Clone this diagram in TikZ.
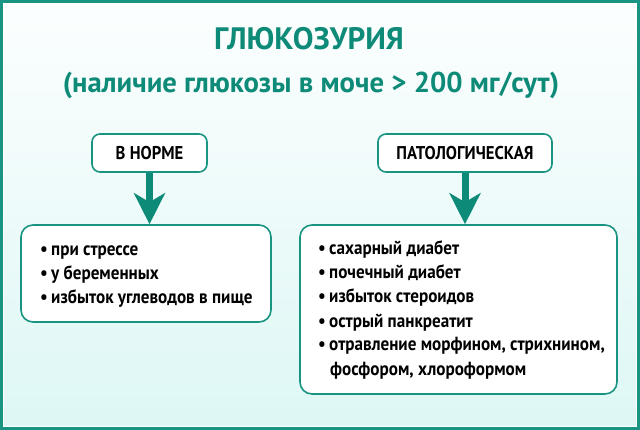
\documentclass[tikz,border=0pt]{standalone}
\usepackage{fontspec}
\setmainfont{PT Sans}
\newfontfamily\titlefont{PT Sans}
\newfontfamily\bodyfont[FakeStretch=0.9]{PT Sans}
\usetikzlibrary{arrows.meta}
\definecolor{tealtxt}{HTML}{0E8A78}
\definecolor{tealline}{HTML}{1A9482}
\definecolor{bgtop}{HTML}{FCFEFE}
\definecolor{bgbot}{HTML}{DDF7F5}
\tikzset{
  labelbox/.style={draw=tealline, line width=1.6pt, fill=white, rounded corners=8pt,
    inner sep=0pt, font=\bodyfont\bfseries\fontsize{18.5}{22}\selectfont, text=black},
  listbox/.style={draw=tealline, line width=1.6pt, fill=white, rounded corners=12pt, inner sep=0pt},
  item/.style={anchor=base west, inner sep=0pt, font=\bodyfont\bfseries\fontsize{19}{22}\selectfont, text=black},
  flowarrow/.style={draw=tealtxt, line width=7pt, -{Stealth[length=31pt,width=31pt,inset=9pt]}},
  titletext/.style={text=tealtxt, inner sep=0pt, font=\titlefont\bfseries}
}
\newcommand{\bul}{\makebox[11pt][l]{•}}
\begin{document}
\begin{tikzpicture}[x=1pt,y=-1pt]
\useasboundingbox (0,0) rectangle (640,430);
\shade[top color=bgtop, bottom color=bgbot] (0,0) rectangle (640,430);
\draw[white, line width=1.2pt] (3.2,3.2) rectangle (636.8,426.8);
\draw[tealline, line width=2.6pt] (1.3,1.3) rectangle (638.7,428.7);

\node[titletext, font=\titlefont\bfseries\fontsize{31}{34}\selectfont, anchor=base] (title) at (309,50) {ГЛЮКОЗУРИЯ};
\node[titletext, font=\titlefont\bfseries\fontsize{28.7}{32}\selectfont, anchor=base] (subtitle) at (311,93) {(наличие глюкозы в моче > 200 мг/сут)};

\node[labelbox, minimum width=115pt, minimum height=38pt] (norm) at (149.5,153) {В НОРМЕ};
\node[labelbox, minimum width=174pt, minimum height=38pt] (patho) at (465,153) {ПАТОЛОГИЧЕСКАЯ};

\node[listbox, minimum width=250pt, minimum height=97pt] (normlist) at (146,273.5) {};
\node[listbox, minimum width=317pt, minimum height=169pt] (patholist) at (458.5,309.5) {};

\draw[flowarrow] (norm.south) -- (norm.south |- normlist.north);
\draw[flowarrow] (patho.south) -- (patho.south |- patholist.north);

\node[item] (n1) at (40,256) {\bul при стрессе};
\node[item] (n2) at (40,280) {\bul у беременных};
\node[item] (n3) at (40,304) {\bul избыток углеводов в пище};

\node[item] (p1) at (318,255) {\bul сахарный диабет};
\node[item] (p2) at (318,279) {\bul почечный диабет};
\node[item] (p3) at (318,303) {\bul избыток стероидов};
\node[item] (p4) at (318,327) {\bul острый панкреатит};
\node[item] (p5) at (318,351) {\bul отравление морфином, стрихнином,};
\node[item] (p6) at (330,375) {фосфором, хлороформом};
\end{tikzpicture}
\end{document}
